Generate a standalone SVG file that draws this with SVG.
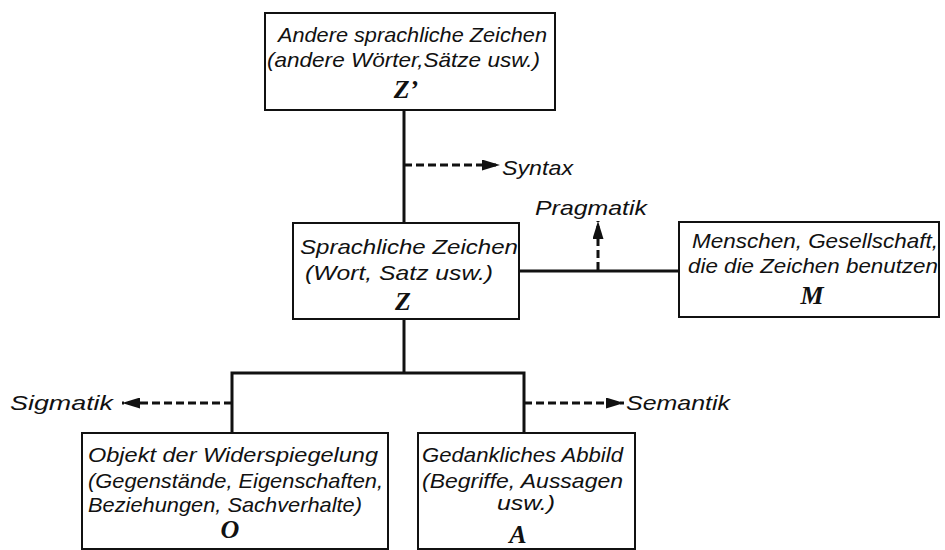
<svg xmlns="http://www.w3.org/2000/svg" width="945" height="550" viewBox="0 0 945 550">
<style>
.box{fill:#fff;stroke:#111;stroke-width:2}
.t{font-family:"Liberation Sans","DejaVu Sans",sans-serif;font-style:italic;font-size:21px;fill:#111}
.s{font-family:"Liberation Serif","DejaVu Serif",serif;font-style:italic;font-weight:bold;font-size:26px;fill:#111;text-anchor:middle}
.ln{stroke:#111;stroke-width:3;fill:none}
.d{stroke:#111;stroke-width:3;fill:none;stroke-dasharray:8 4}
</style>
<defs>
<marker id="ah" viewBox="0 0 18 11" refX="18" refY="5.5" markerWidth="18" markerHeight="11" markerUnits="userSpaceOnUse" orient="auto">
<path d="M0,0 L18,5.5 L0,11 Z" fill="#111"/>
</marker>
</defs>
<rect width="945" height="550" fill="#fff"/>
<g id="connectors">
<line class="ln" x1="404" y1="110" x2="404" y2="223"/>
<line class="ln" x1="404" y1="319" x2="404" y2="373"/>
<polyline class="ln" points="232,433 232,373 524,373 524,433"/>
<line class="ln" x1="519" y1="271" x2="679" y2="271"/>
<line class="d" x1="404" y1="165" x2="500" y2="165" marker-end="url(#ah)"/>
<line class="d" x1="598" y1="270" x2="598" y2="221" marker-end="url(#ah)"/>
<line class="d" x1="232" y1="403" x2="122" y2="403" marker-end="url(#ah)"/>
<line class="d" x1="524" y1="403" x2="624" y2="403" marker-end="url(#ah)"/>
<text class="t" x="502" y="175" textLength="71" lengthAdjust="spacingAndGlyphs">Syntax</text>
<text class="t" x="535" y="215" textLength="112" lengthAdjust="spacingAndGlyphs">Pragmatik</text>
<text class="t" x="10" y="410" textLength="103" lengthAdjust="spacingAndGlyphs">Sigmatik</text>
<text class="t" x="626" y="410" textLength="104" lengthAdjust="spacingAndGlyphs">Semantik</text>
</g>
<g id="nodeZ2">
<rect class="box" x="265" y="13" width="290" height="97"/>
<text class="t" x="278" y="42" textLength="269" lengthAdjust="spacingAndGlyphs">Andere sprachliche Zeichen</text>
<text class="t" x="267" y="67" textLength="273" lengthAdjust="spacingAndGlyphs">(andere Wörter,Sätze usw.)</text>
<text class="s" x="406" y="98">Z’</text>
</g>
<g id="nodeZ">
<rect class="box" x="293" y="223" width="226" height="96"/>
<text class="t" x="300" y="254" textLength="218" lengthAdjust="spacingAndGlyphs">Sprachliche Zeichen</text>
<text class="t" x="305" y="280" textLength="188" lengthAdjust="spacingAndGlyphs">(Wort, Satz usw.)</text>
<text class="s" x="403" y="310">Z</text>
</g>
<g id="nodeM">
<rect class="box" x="679" y="222" width="260" height="95"/>
<text class="t" x="692" y="248" textLength="246" lengthAdjust="spacingAndGlyphs">Menschen, Gesellschaft,</text>
<text class="t" x="688" y="273" textLength="250" lengthAdjust="spacingAndGlyphs">die die Zeichen benutzen</text>
<text class="s" x="812" y="304">M</text>
</g>
<g id="nodeO">
<rect class="box" x="82" y="433" width="306" height="116"/>
<text class="t" x="88" y="462" textLength="290" lengthAdjust="spacingAndGlyphs">Objekt der Widerspiegelung</text>
<text class="t" x="88" y="488" textLength="295" lengthAdjust="spacingAndGlyphs">(Gegenstände, Eigenschaften,</text>
<text class="t" x="88" y="512" textLength="274" lengthAdjust="spacingAndGlyphs">Beziehungen, Sachverhalte)</text>
<text class="s" x="230" y="538">O</text>
</g>
<g id="nodeA">
<rect class="box" x="418" y="433" width="217" height="116"/>
<text class="t" x="422" y="462" textLength="201" lengthAdjust="spacingAndGlyphs">Gedankliches Abbild</text>
<text class="t" x="422" y="488" textLength="201" lengthAdjust="spacingAndGlyphs">(Begriffe, Aussagen</text>
<text class="t" x="497" y="510" textLength="58" lengthAdjust="spacingAndGlyphs">usw.)</text>
<text class="s" x="518" y="543">A</text>
</g>
</svg>
